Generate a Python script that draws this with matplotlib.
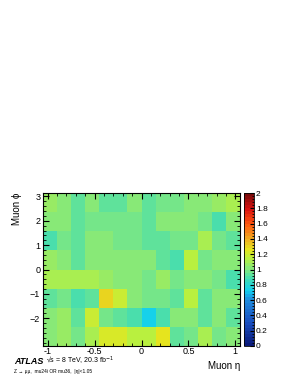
import numpy as np
import matplotlib
matplotlib.use("Agg")
import matplotlib.pyplot as plt
from matplotlib.colors import LinearSegmentedColormap
from matplotlib.ticker import MultipleLocator, FixedLocator

plt.rcParams['font.family'] = ['Liberation Sans', 'DejaVu Sans']

# bin edges
eta_edges = np.linspace(-1.05, 1.05, 15)
phi_edges = np.linspace(-np.pi, np.pi, 9)

# efficiency ratio per (phi row, eta column), bottom row first
ratio = np.array([
    [1.02, 1.05, 0.97, 1.10, 1.23, 1.23, 1.12, 1.15, 1.25, 0.95, 0.98, 1.08, 0.97, 1.00],
    [1.00, 1.05, 0.93, 1.17, 0.98, 0.92, 0.90, 0.72, 0.90, 1.00, 1.02, 0.93, 1.00, 0.95],
    [0.95, 0.98, 0.90, 0.93, 1.30, 1.18, 1.00, 0.98, 0.97, 0.93, 1.12, 0.95, 1.00, 1.00],
    [1.10, 1.10, 1.10, 1.08, 1.05, 1.00, 1.00, 0.98, 1.05, 0.98, 1.00, 1.00, 0.98, 0.88],
    [1.05, 1.00, 0.95, 1.00, 1.00, 1.00, 1.00, 1.00, 0.93, 0.90, 1.12, 0.98, 1.00, 1.03],
    [0.88, 0.97, 0.95, 1.03, 1.03, 0.98, 0.98, 0.95, 0.95, 0.96, 0.98, 1.08, 0.97, 0.92],
    [1.00, 1.03, 0.95, 0.97, 0.97, 0.98, 0.98, 0.93, 1.00, 1.00, 1.00, 0.97, 0.88, 1.03],
    [1.07, 1.03, 0.95, 1.00, 0.95, 0.95, 1.00, 0.92, 0.98, 0.98, 1.00, 1.00, 1.05, 1.08],
])

phi_ticks = [-2, -1, 0, 1, 2, 3]
cbar_ticks = [0, 0.2, 0.4, 0.6, 0.8, 1, 1.2, 1.4, 1.6, 1.8, 2]

# ROOT-like rainbow palette
cmap = LinearSegmentedColormap.from_list("rootrainbow", [
    (0.00, "#0a1a7a"),
    (0.15, "#1a4fc0"),
    (0.30, "#1e8ee0"),
    (0.36, "#12d0f0"),
    (0.44, "#40dcb4"),
    (0.50, "#80e880"),
    (0.57, "#b8f040"),
    (0.63, "#e6e61e"),
    (0.70, "#f0b020"),
    (0.80, "#ff5a10"),
    (0.90, "#d81010"),
    (1.00, "#7a0a0a"),
], N=50)

fig = plt.figure(figsize=(2.91, 3.76), dpi=100)
ax = fig.add_axes([43/291, 1-346/376, 197/291, 153/376])
cax = fig.add_axes([244/291, 1-346/376, 10/291, 153/376])

mesh = ax.pcolormesh(eta_edges, phi_edges, ratio, cmap=cmap, vmin=0, vmax=2)
ax.set_xlim(-1.05, 1.05)
ax.set_ylim(-np.pi, np.pi)
ax.xaxis.set_major_locator(MultipleLocator(0.5))
ax.xaxis.set_minor_locator(MultipleLocator(0.1))
ax.yaxis.set_major_locator(FixedLocator(phi_ticks))
ax.yaxis.set_minor_locator(MultipleLocator(0.2))
ax.xaxis.set_major_formatter(plt.FuncFormatter(lambda v, p: f"{v:g}"))
ax.tick_params(which='both', direction='in', top=True, right=True, labelsize=6.5, pad=2)
ax.tick_params(axis='x', pad=0.5)
ax.tick_params(which='major', length=4, width=0.8)
ax.tick_params(which='minor', length=2, width=0.6)
for s in ax.spines.values():
    s.set_linewidth(0.8)

ax.set_xlabel("Muon η", fontsize=7, loc='right', labelpad=4)
ax.set_ylabel("Muon ϕ", fontsize=7, loc='top', labelpad=6)

cb = fig.colorbar(mesh, cax=cax, ticks=cbar_ticks)
cb.outline.set_linewidth(0.6)
cb.ax.yaxis.set_minor_locator(MultipleLocator(0.04))
cb.ax.tick_params(which='both', direction='in', labelsize=6, pad=1.5)
cb.ax.tick_params(which='major', length=3)
cb.ax.tick_params(which='minor', length=1.5)
cb.ax.yaxis.set_major_formatter(plt.FuncFormatter(lambda v, p: f"{v:g}"))

fig.text(14/291, 1-361/376, "ATLAS", fontsize=6.5, fontweight='bold', style='italic', va='center')
fig.text(46/291, 1-361/376, "√s = 8 TeV, 20.3 fb$^{-1}$", fontsize=5, va='center')
fig.text(14/291, 1-372/376, "Z → μμ,  mu24i OR mu36,  |η|<1.05", fontsize=3.5, va='center')

fig.savefig("out.png", dpi=100)
